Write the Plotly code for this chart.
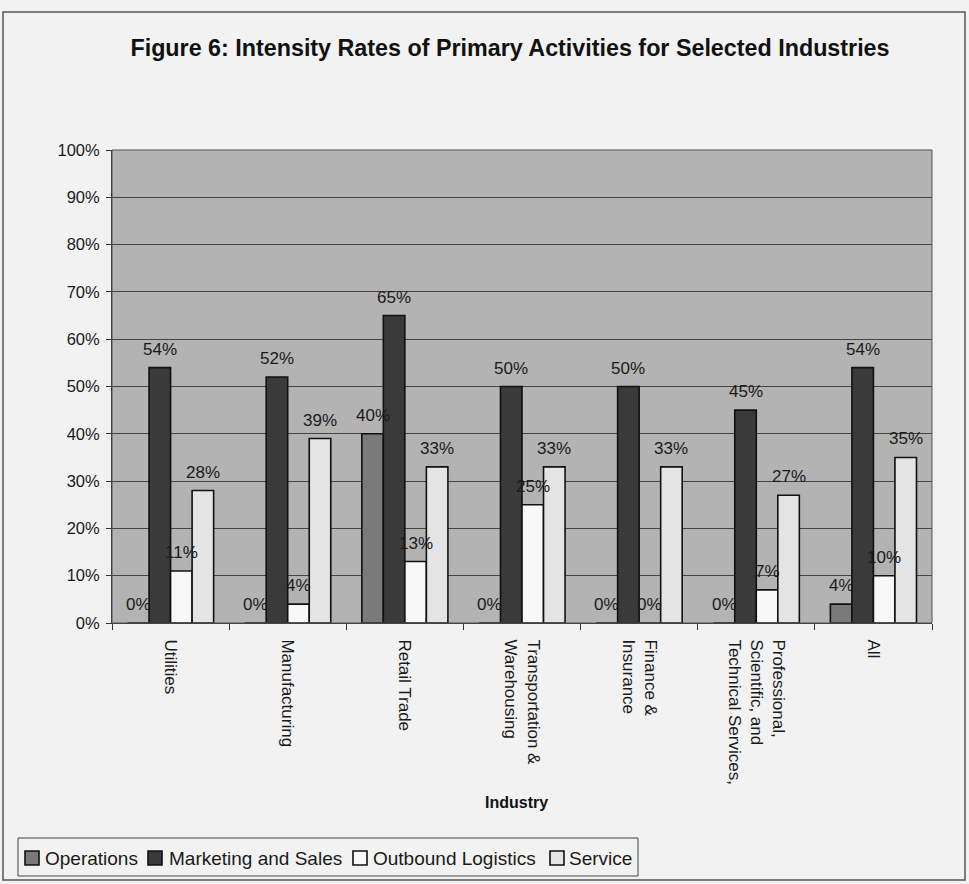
import plotly.graph_objects as go

industries = [
    "Utilities",
    "Manufacturing",
    "Retail Trade",
    "Transportation &<br>Warehousing",
    "Finance &<br>Insurance",
    "Professional,<br>Scientific, and<br>Technical Services,",
    "All",
]
operations = [0, 0, 40, 0, 0, 0, 4]
marketing_sales = [54, 52, 65, 50, 50, 45, 54]
outbound_logistics = [11, 4, 13, 25, 0, 7, 10]
service = [28, 39, 33, 33, 33, 27, 35]

series_names = ["Operations", "Marketing and Sales", "Outbound Logistics", "Service"]
series_values = [operations, marketing_sales, outbound_logistics, service]
series_colors = ["#7a7a7a", "#3a3a3a", "#f8f8f8", "#e4e4e4"]

FONT = "Liberation Sans, Arial, sans-serif"
W, H = 969, 884
L, R, T, B = 112, 37, 150, 261
pw, ph = W - L - R, H - T - B
BARGAP = 0.265


def px_x(x):
    return (x - L) / pw


def px_y(y):
    return (H - B - y) / ph


fig = go.Figure()
for name, vals, color in zip(series_names, series_values, series_colors):
    fig.add_trace(go.Bar(
        name=name,
        x=industries,
        y=[v / 100 for v in vals],
        marker=dict(color=color, line=dict(color="#111111", width=1.6)),
        showlegend=False,
    ))

# value labels centred over each bar of the group
n_series = len(series_values)
cat_w = pw / len(industries)
bar_w = cat_w * (1 - BARGAP) / n_series
annotations = []
for i, vals in enumerate(series_values):
    shift = (i - (n_series - 1) / 2) * bar_w
    for cat, v in zip(industries, vals):
        annotations.append(dict(
            x=cat, y=v / 100, xref="x", yref="y",
            text=f"{v}%", showarrow=False,
            xanchor="center", yanchor="bottom",
            xshift=shift, yshift=7,
            font=dict(family=FONT, size=17, color="#1a1a1a"),
        ))

# axis title
annotations.append(dict(
    text="<b>Industry</b>", xref="paper", yref="paper",
    x=px_x(516), y=px_y(813), showarrow=False,
    font=dict(family=FONT, size=16, color="#111111"),
))

# legend row: swatch + label for each series
legend_items = [(25, 43), (148, 167), (353, 371), (550, 567)]
shapes = [
    dict(type="rect", xref="paper", yref="paper",
         x0=px_x(3), x1=px_x(965), y0=px_y(880), y1=px_y(12),
         line=dict(color="#555555", width=1.5), layer="below"),
    dict(type="rect", xref="paper", yref="paper",
         x0=0, x1=1, y0=0, y1=1,
         line=dict(color="#555555", width=1)),
    dict(type="rect", xref="paper", yref="paper",
         x0=px_x(18), x1=px_x(638), y0=px_y(876), y1=px_y(838),
         line=dict(color="#444444", width=1), fillcolor="rgba(0,0,0,0)"),
]
for (sx, tx), name, color in zip(legend_items, series_names, series_colors):
    shapes.append(dict(
        type="rect", xref="paper", yref="paper",
        x0=px_x(sx), x1=px_x(sx + 14), y0=px_y(865), y1=px_y(851),
        line=dict(color="#111111", width=1.6), fillcolor=color,
    ))
    annotations.append(dict(
        text=name, xref="paper", yref="paper",
        x=px_x(tx), y=px_y(858), xanchor="left", yanchor="middle",
        showarrow=False,
        font=dict(family=FONT, size=19, color="#1a1a1a"),
    ))

fig.update_layout(
    width=W, height=H,
    margin=dict(l=L, r=R, t=T, b=B, pad=0),
    barmode="group",
    bargap=BARGAP,
    bargroupgap=0,
    paper_bgcolor="#f2f2f2",
    plot_bgcolor="#b3b3b3",
    font=dict(family=FONT, size=17, color="#1a1a1a"),
    title=dict(
        text="<b>Figure 6: Intensity Rates of Primary Activities for Selected Industries</b>",
        x=510 / W, xanchor="center", y=1 - 48 / H, yanchor="middle",
        font=dict(size=23.3, color="#111111"),
    ),
    showlegend=False,
    xaxis=dict(
        tickangle=90,
        ticks="outside", ticklen=6, tickcolor="#333333",
        tickson="boundaries",
        ticklabelstandoff=12,
        showline=True, linecolor="#333333", linewidth=1,
        showgrid=False,
        tickfont=dict(size=17),
        automargin=False,
    ),
    yaxis=dict(
        range=[0, 1],
        tickvals=[i / 10 for i in range(11)],
        tickformat=".0%",
        ticks="outside", ticklen=5, tickcolor="#333333",
        ticklabelstandoff=3,
        showline=True, linecolor="#333333", linewidth=1,
        showgrid=True, gridcolor="#454545", gridwidth=1,
        zeroline=False,
        tickfont=dict(size=16.5),
        automargin=False,
    ),
    shapes=shapes,
    annotations=annotations,
)

fig.write_html("out.html")
